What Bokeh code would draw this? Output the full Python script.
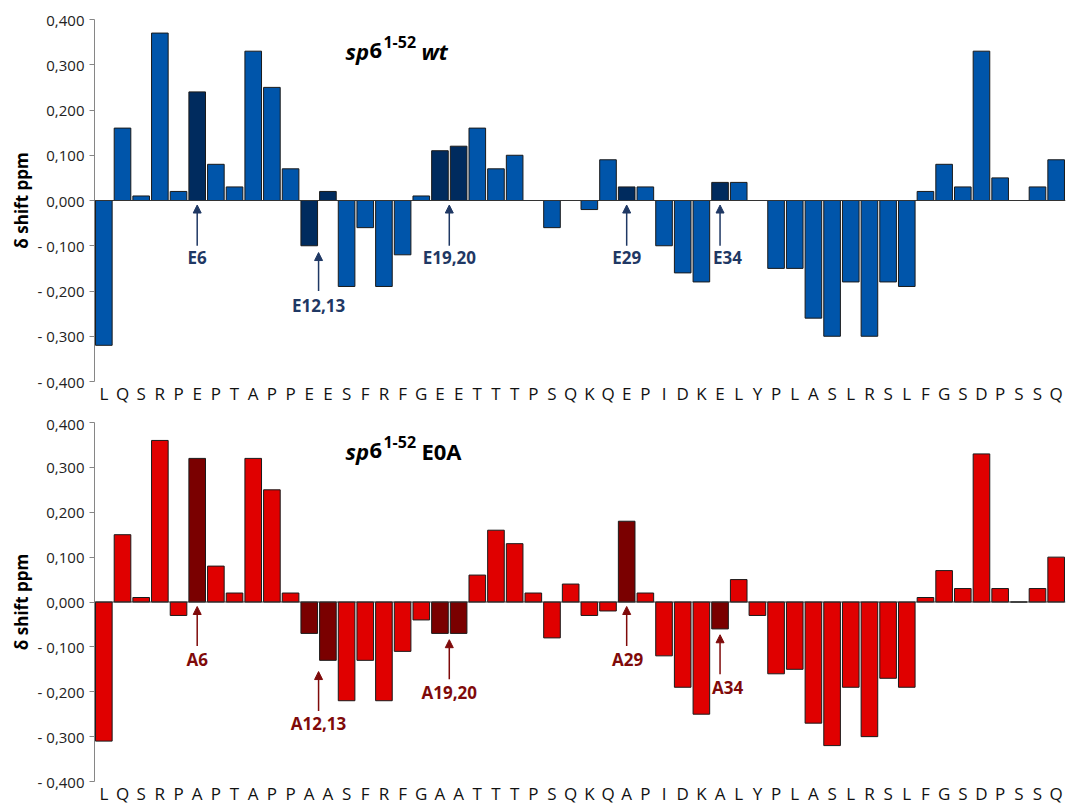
from bokeh.plotting import figure
from bokeh.models import (Range1d, FixedTicker, CustomJSTickFormatter, Span, Arrow,
                          NormalHead, Label, ColumnDataSource)
from bokeh.layouts import column
from bokeh.embed import file_html
from bokeh.resources import INLINE

# ---------------- data ----------------
residues_wt = list("LQSRPEPTAPPEESFRFGEETTTPSQKQEPIDKELYPLASLRSLFGSDPSSQ")
residues_e0a = list("LQSRPAPTAPPAASFRFGAATTTPSQKQAPIDKALYPLASLRSLFGSDPSSQ")

shift_wt = [-0.32, 0.16, 0.01, 0.37, 0.02, 0.24, 0.08, 0.03, 0.33, 0.25,
            0.07, -0.10, 0.02, -0.19, -0.06, -0.19, -0.12, 0.01, 0.11, 0.12,
            0.16, 0.07, 0.10, 0.00, -0.06, 0.00, -0.02, 0.09, 0.03, 0.03,
            -0.10, -0.16, -0.18, 0.04, 0.04, 0.00, -0.15, -0.15, -0.26, -0.30,
            -0.18, -0.30, -0.18, -0.19, 0.02, 0.08, 0.03, 0.33, 0.05, 0.00,
            0.03, 0.09]

shift_e0a = [-0.31, 0.15, 0.01, 0.36, -0.03, 0.32, 0.08, 0.02, 0.32, 0.25,
             0.02, -0.07, -0.13, -0.22, -0.13, -0.22, -0.11, -0.04, -0.07, -0.07,
             0.06, 0.16, 0.13, 0.02, -0.08, 0.04, -0.03, -0.02, 0.18, 0.02,
             -0.12, -0.19, -0.25, -0.06, 0.05, -0.03, -0.16, -0.15, -0.27, -0.32,
             -0.19, -0.30, -0.17, -0.19, 0.01, 0.07, 0.03, 0.33, 0.03, 0.00,
             0.03, 0.10]

mutated_positions = [6, 12, 13, 19, 20, 29, 34]
y_ticks = [-0.4, -0.3, -0.2, -0.1, 0.0, 0.1, 0.2, 0.3, 0.4]

# annotation texts with arrow x (residue number), arrow tip/tail and label position
notes_wt = [("E6", 6, -0.01, -0.10, 6, -0.125),
            ("E12,13", 12.5, -0.115, -0.20, 12.5, -0.232),
            ("E19,20", 19.5, -0.01, -0.10, 19.5, -0.125),
            ("E29", 29, -0.01, -0.10, 29, -0.125),
            ("E34", 34, -0.01, -0.10, 34.4, -0.125)]
notes_e0a = [("A6", 6, -0.01, -0.098, 6, -0.128),
             ("A12,13", 12.5, -0.155, -0.243, 12.5, -0.271),
             ("A19,20", 19.5, -0.084, -0.172, 19.5, -0.201),
             ("A29", 29, -0.01, -0.098, 29.05, -0.128),
             ("A34", 34, -0.073, -0.161, 34.4, -0.19)]

FONT = "Open Sans"

fmt = CustomJSTickFormatter(code="""
    const v = Math.round(tick * 1000) / 1000;
    const s = Math.abs(v).toFixed(3).replace('.', ',');
    return v < 0 ? '- ' + s : s;
""")


def make_panel(residues, values, normal, dark, note_color, notes, title_parts,
               title_xy, height, border_top, border_bottom):
    n = len(residues)
    xs = list(range(1, n + 1))
    colors = [dark if i in mutated_positions else normal for i in xs]
    src = ColumnDataSource(dict(x=xs, top=values, color=colors))

    p = figure(width=1066, height=height, output_backend="svg", toolbar_location=None,
               x_range=Range1d(0.5, n + 0.5), y_range=Range1d(-0.4, 0.4),
               min_border_left=94, min_border_right=1,
               min_border_top=border_top, min_border_bottom=border_bottom)
    p.outline_line_color = None
    p.xgrid.visible = False
    p.ygrid.visible = False
    p.background_fill_color = "white"
    p.border_fill_color = "white"

    p.vbar(x="x", top="top", bottom=0, width=0.89, fill_color="color",
           line_color="#1a1a1a", line_width=1, source=src)

    p.add_layout(Span(location=0, dimension="width", line_color="#333333", line_width=1))

    # y axis
    yax = p.yaxis[0]
    yax.ticker = FixedTicker(ticks=y_ticks)
    yax.formatter = fmt
    yax.axis_line_color = "#868686"
    yax.major_tick_line_color = "#868686"
    yax.major_tick_out = 5
    yax.major_tick_in = 0
    yax.minor_tick_line_color = None
    yax.major_label_text_font = FONT
    yax.major_label_text_font_size = "15px"
    yax.major_label_text_color = "#222222"
    yax.major_label_standoff = 5
    yax.axis_label = "δ shift ppm"
    yax.axis_label_text_font = FONT
    yax.axis_label_text_font_style = "bold"
    yax.axis_label_text_font_size = "17px"
    yax.axis_label_text_color = "#000000"
    yax.axis_label_standoff = 2

    # x axis with residue letters
    xax = p.xaxis[0]
    xax.ticker = FixedTicker(ticks=xs)
    xax.major_label_overrides = {i: r for i, r in zip(xs, residues)}
    xax.axis_line_color = None
    xax.major_tick_line_color = None
    xax.minor_tick_line_color = None
    xax.major_tick_out = 0
    xax.major_label_standoff = 0
    xax.major_label_text_font = FONT
    xax.major_label_text_font_size = "17px"
    xax.major_label_text_color = "#111111"

    # arrows and labels
    for text, ax, tip, tail, lx, ly in notes:
        p.add_layout(Arrow(end=NormalHead(size=8, fill_color=note_color, line_color=note_color),
                           x_start=ax, y_start=tail, x_end=ax, y_end=tip,
                           line_color=note_color, line_width=1.5))
        p.add_layout(Label(x=lx, y=ly, text=text, text_align="center", text_baseline="middle",
                           text_font=FONT, text_font_style="bold", text_font_size="17px",
                           text_color=note_color))

    # title pieces
    tx, ty = title_xy
    for text, dx, dy, style, size in title_parts:
        p.add_layout(Label(x=tx, y=ty, x_offset=dx, y_offset=dy, text=text,
                           text_align="left", text_baseline="alphabetic",
                           text_font=FONT, text_font_style=style, text_font_size=size,
                           text_color="#000000"))
    return p


title_wt = [("sp", 0, 0, "bold italic", "22px"),
            ("6", 24, 0, "bold", "22px"),
            ("1-52", 38, 9, "bold", "16px"),
            ("wt", 76, 0, "bold italic", "22px")]
title_e0a = [("sp", 0, 0, "bold italic", "22px"),
             ("6", 24, 0, "bold", "22px"),
             ("1-52", 38, 9, "bold", "16px"),
             ("E0A", 76, 0, "bold", "22px")]

p1 = make_panel(residues_wt, shift_wt, "#0055AA", "#002B5E", "#1F3864", notes_wt,
                title_wt, (13.94, 0.331), 413, 19, 32)
p2 = make_panel(residues_e0a, shift_e0a, "#E00000", "#7A0000", "#7F0A0A", notes_e0a,
                title_e0a, (13.94, 0.337), 395, 9, 27)

layout = column(p1, p2, spacing=0)
open("out.html", "w").write(file_html(layout, INLINE))
